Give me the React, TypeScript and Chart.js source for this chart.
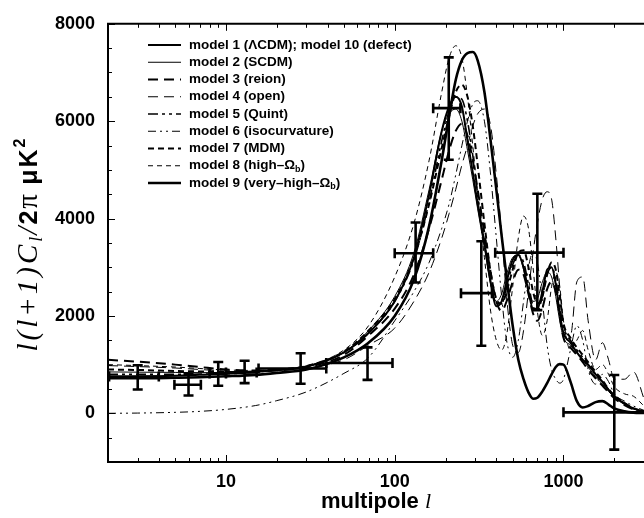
import React, { useEffect, useRef } from 'react';
import { Chart, registerables } from 'chart.js';
Chart.register(...registerables);

// multipole grid shared by all model curves
const ELL = [2, 3, 5, 7, 10, 15, 20, 30, 50, 70, 100, 130, 160, 190, 210, 230, 250, 270, 290, 310, 340, 370, 400, 430, 460, 500, 540, 580, 620, 660, 700, 750, 800, 850, 900, 950, 1000, 1100, 1200, 1300, 1400, 1550, 1700, 1850, 2000, 2300, 2600, 3000];

const M1 = [740, 750, 770, 790, 810, 850, 890, 960, 1250, 1650, 2300, 3200, 4500, 5800, 6300, 6500, 6300, 5600, 4950, 4300, 3500, 2700, 2200, 2300, 2700, 3150, 3250, 3000, 2500, 2150, 2150, 2500, 2950, 3000, 2650, 2050, 1650, 1450, 1250, 1100, 1000, 800, 650, 480, 350, 200, 100, 40];
const M2 = [850, 845, 840, 835, 835, 850, 880, 950, 1250, 1700, 2400, 3300, 4600, 5800, 6150, 6250, 6000, 5400, 4800, 4200, 3400, 2650, 2300, 2450, 2850, 3200, 3250, 2950, 2500, 2300, 2350, 2700, 2900, 2800, 2400, 1900, 1550, 1400, 1250, 1100, 950, 750, 600, 450, 330, 180, 90, 30];
const M3 = [1100, 1060, 1000, 950, 900, 880, 890, 950, 1200, 1600, 2150, 2850, 3800, 4800, 5400, 5800, 5950, 5700, 5200, 4600, 3700, 2900, 2300, 2100, 2300, 2700, 2950, 2850, 2450, 2050, 1900, 2150, 2550, 2700, 2500, 2000, 1550, 1350, 1200, 1050, 900, 720, 570, 430, 310, 170, 80, 30];
const M4 = [980, 960, 930, 900, 870, 860, 870, 930, 1100, 1400, 1750, 2300, 2900, 3600, 4100, 4600, 5100, 5500, 5900, 6150, 6250, 5900, 4900, 3700, 2400, 1400, 1250, 1700, 2500, 3300, 3900, 4400, 4550, 4400, 3600, 2600, 1800, 1600, 2700, 2800, 1900, 1100, 1450, 1100, 700, 700, 850, 300];
const M5 = [800, 800, 800, 805, 810, 850, 890, 960, 1250, 1650, 2300, 3150, 4350, 5600, 6200, 6500, 6450, 6000, 5300, 4500, 3500, 2700, 2250, 2250, 2600, 3050, 3250, 3100, 2650, 2200, 2100, 2400, 2850, 3000, 2750, 2200, 1750, 1500, 1300, 1150, 1000, 800, 650, 490, 360, 210, 100, 40];
const M6 = [0, 5, 20, 40, 80, 160, 260, 440, 820, 1150, 1900, 2500, 3100, 3800, 4300, 4900, 5500, 6000, 6350, 6420, 6000, 4900, 3600, 2400, 1500, 1150, 1500, 2300, 3000, 3300, 3100, 2300, 1400, 900, 700, 620, 700, 1300, 1800, 1500, 900, 600, 800, 650, 400, 250, 150, 60];
const M7 = [900, 890, 870, 860, 850, 860, 900, 970, 1270, 1700, 2350, 3200, 4300, 5450, 6100, 6600, 6750, 6500, 5900, 5100, 3900, 2900, 2350, 2250, 2500, 2950, 3300, 3350, 3000, 2500, 2250, 2400, 2850, 3100, 2950, 2400, 1850, 1550, 1350, 1200, 1050, 850, 680, 500, 370, 210, 100, 40];
const M8 = [1000, 980, 950, 920, 890, 880, 900, 970, 1300, 1800, 2800, 3900, 5200, 6600, 7300, 7550, 7300, 6500, 5500, 4500, 3200, 2100, 1500, 1300, 1600, 2600, 3600, 4050, 3800, 3000, 2100, 1600, 1900, 2600, 2900, 2600, 1900, 1300, 1500, 1700, 1300, 900, 1000, 800, 550, 400, 350, 150];
const M9 = [720, 720, 730, 740, 760, 790, 830, 900, 1150, 1450, 2000, 2750, 3850, 5200, 6100, 6850, 7250, 7400, 7420, 7250, 6600, 5600, 4600, 3650, 2800, 1800, 1100, 700, 430, 300, 320, 450, 620, 800, 950, 1010, 1000, 650, 250, 120, 150, 230, 250, 180, 100, 40, 15, 5];

const MODEL_LABELS = [
  'model 1 (ΛCDM); model 10 (defect)',
  'model 2 (SCDM)',
  'model 3 (reion)',
  'model 4 (open)',
  'model 5 (Quint)',
  'model 6 (isocurvature)',
  'model 7 (MDM)',
  'model 8 (high–Ω_b)',
  'model 9 (very–high–Ω_b)',
];

// band-power measurements with error bars
const PT_L = [3, 6, 9, 12.9, 27.7, 69, 133, 209, 326, 700, 2000];
const PT_V = [754, 587, 820, 840, 920, 1034, 3288, 6268, 2468, 3300, 20];
const PT_LLO = [2.03, 4.95, 8, 10, 15.6, 39.3, 100, 169, 247, 394, 1000];
const PT_LHI = [4.0, 7.1, 10, 15.2, 39.3, 97, 169, 245, 377, 1000, 4000];
const PT_VLO = [488, 367, 567, 620, 607, 687, 2688, 5208, 1388, 2120, -746];
const PT_VHI = [988, 800, 1054, 1080, 1234, 1354, 3920, 7310, 3534, 4508, 788];

const X_LABELS = [10, 100, 1000];
const Y_LABELS = [0, 2000, 4000, 6000, 8000];

const SANS = '"Liberation Sans", Arial, Helvetica, sans-serif';
const SERIF = '"Liberation Serif", "Times New Roman", serif';

const STYLES = [
  { w: 2, dash: [] as number[] },
  { w: 1, dash: [] as number[] },
  { w: 2, dash: [10, 6] },
  { w: 1, dash: [10, 6] },
  { w: 1.6, dash: [10, 4, 3, 4, 3, 4] },
  { w: 1, dash: [8, 4, 2, 4, 2, 4] },
  { w: 2, dash: [6, 4] },
  { w: 1, dash: [5, 4] },
  { w: 2.6, dash: [] as number[] },
];

export default function App() {
  const ref = useRef<HTMLCanvasElement>(null);
  useEffect(() => {
    document.body.style.margin = '0';
    const canvas = ref.current!;
    const series = [M1, M2, M3, M4, M5, M6, M7, M8, M9];
    const datasets: any[] = series.map((vals, i) => ({
      label: MODEL_LABELS[i],
      data: ELL.map((l, j) => ({ x: l, y: vals[j] })),
      borderColor: '#000',
      borderWidth: STYLES[i].w,
      borderDash: STYLES[i].dash,
      pointRadius: 0,
      cubicInterpolationMode: 'monotone',
      fill: false,
    }));
    datasets.push({
      label: 'data',
      data: PT_L.map((l, i) => ({ x: l, y: PT_V[i] })),
      showLine: false,
      pointRadius: 0,
      borderColor: '#000',
    });

    const errorBars = {
      id: 'errorBars',
      afterDatasetsDraw(chart: any) {
        const { ctx, chartArea: a, scales: { x, y } } = chart;
        ctx.save();
        ctx.beginPath();
        ctx.rect(a.left, a.top - 2, a.right - a.left, a.bottom - a.top + 4);
        ctx.clip();
        ctx.strokeStyle = '#000';
        ctx.lineWidth = 2.6;
        ctx.setLineDash([]);
        const cap = 5;
        PT_L.forEach((l, i) => {
          const px = x.getPixelForValue(l);
          const py = y.getPixelForValue(PT_V[i]);
          const x0 = x.getPixelForValue(PT_LLO[i]);
          const x1 = x.getPixelForValue(PT_LHI[i]);
          const y0 = y.getPixelForValue(PT_VLO[i]);
          const y1 = y.getPixelForValue(PT_VHI[i]);
          ctx.beginPath();
          ctx.moveTo(x0, py); ctx.lineTo(x1, py);
          ctx.moveTo(x0, py - cap); ctx.lineTo(x0, py + cap);
          ctx.moveTo(x1, py - cap); ctx.lineTo(x1, py + cap);
          ctx.moveTo(px, y0); ctx.lineTo(px, y1);
          ctx.moveTo(px - cap, y0); ctx.lineTo(px + cap, y0);
          ctx.moveTo(px - cap, y1); ctx.lineTo(px + cap, y1);
          ctx.stroke();
        });
        ctx.restore();
      },
    };

    const frame = {
      id: 'frame',
      afterDraw(chart: any) {
        const { ctx, chartArea: a, scales: { x, y } } = chart;
        ctx.save();
        ctx.strokeStyle = '#000';
        ctx.setLineDash([]);
        ctx.lineWidth = 2;
        ctx.beginPath();
        ctx.moveTo(a.left - 1, a.top);
        ctx.lineTo(a.right, a.top);
        ctx.stroke();
        ctx.lineWidth = 1;
        ctx.beginPath();
        for (let d = 1; d <= 1000; d *= 10) {
          for (let k = 1; k <= 9; k++) {
            const v = k * d;
            if (v < 2 || v > 3000) continue;
            const px = Math.round(x.getPixelForValue(v)) + 0.5;
            const len = k === 1 ? 7 : 4;
            ctx.moveTo(px, a.bottom); ctx.lineTo(px, a.bottom - len);
            ctx.moveTo(px, a.top); ctx.lineTo(px, a.top + len);
          }
        }
        for (let v = -1000; v <= 8000; v += 500) {
          const py = Math.round(y.getPixelForValue(v)) + 0.5;
          const len = v % 2000 === 0 ? 7 : 4;
          ctx.moveTo(a.left, py); ctx.lineTo(a.left + len, py);
        }
        ctx.stroke();

        // legend
        ctx.fillStyle = '#000';
        ctx.textBaseline = 'middle';
        MODEL_LABELS.forEach((lab, i) => {
          const yy = 45 + i * 17.25;
          ctx.lineWidth = STYLES[i].w;
          ctx.setLineDash(STYLES[i].dash);
          ctx.beginPath();
          ctx.moveTo(148, yy); ctx.lineTo(181, yy);
          ctx.stroke();
          ctx.setLineDash([]);
          let cx = 189;
          const parts = lab.split('_b');
          parts.forEach((p, k) => {
            ctx.font = `bold 13.5px ${SANS}`;
            ctx.fillText(p, cx, yy);
            cx += ctx.measureText(p).width;
            if (k < parts.length - 1) {
              ctx.font = `bold 9px ${SANS}`;
              ctx.fillText('b', cx, yy + 4);
              cx += ctx.measureText('b').width;
            }
          });
        });

        // x title
        ctx.textBaseline = 'alphabetic';
        const xa = `bold 22px ${SANS}`;
        const xb = `italic 22px ${SERIF}`;
        ctx.font = xa; const w1 = ctx.measureText('multipole ').width;
        ctx.font = xb; const w2 = ctx.measureText('l').width;
        const cxm = (a.left + a.right) / 2;
        const sx = cxm - (w1 + w2) / 2;
        ctx.font = xa; ctx.fillText('multipole ', sx, 508);
        ctx.font = xb; ctx.fillText('l', sx + w1, 508);

        // y title
        const pieces = [
          { t: 'l(l+1)C', f: `italic 29px ${SERIF}`, dy: 0, ls: 3 },
          { t: 'l', f: `italic 18px ${SERIF}`, dy: 5, ls: 2 },
          { t: '/', f: `italic 29px ${SERIF}`, dy: 0, ls: 2 },
          { t: '2', f: `bold 25px ${SANS}`, dy: 0, ls: 2 },
          { t: 'π', f: `29px ${SERIF}`, dy: 0, ls: 2 },
          { t: ' ', f: `29px ${SERIF}`, dy: 0, ls: 0 },
          { t: 'μK', f: `bold 25px ${SANS}`, dy: 0, ls: 2 },
          { t: '2', f: `bold 16px ${SANS}`, dy: -12, ls: 0 },
        ];
        const c: any = ctx;
        let total = 0;
        const widths = pieces.map((p) => {
          ctx.font = p.f;
          c.letterSpacing = `${p.ls}px`;
          const w = ctx.measureText(p.t).width;
          total += w;
          return w;
        });
        ctx.translate(37, 245);
        ctx.rotate(-Math.PI / 2);
        let px0 = -total / 2;
        pieces.forEach((p, i) => {
          ctx.font = p.f;
          c.letterSpacing = `${p.ls}px`;
          ctx.fillText(p.t, px0, p.dy);
          px0 += widths[i];
        });
        c.letterSpacing = '0px';
        ctx.restore();
      },
    };

    const chart = new Chart(canvas, {
      type: 'line',
      data: { datasets },
      plugins: [errorBars, frame],
      options: {
        animation: false,
        responsive: false,
        devicePixelRatio: 1,
        layout: { padding: { top: 13, right: 0, left: 0, bottom: 0 } },
        plugins: { legend: { display: false }, tooltip: { enabled: false }, title: { display: false } },
        scales: {
          x: {
            type: 'logarithmic',
            min: 2,
            max: 3000,
            grid: { display: false, drawTicks: false },
            border: { display: true, color: '#000', width: 2 },
            afterBuildTicks: (s: any) => { s.ticks = X_LABELS.map((v) => ({ value: v })); },
            afterFit: (s: any) => { s.height = 56; },
            ticks: {
              autoSkip: false,
              maxRotation: 0,
              padding: 9,
              color: '#000',
              font: { family: SANS, weight: 'bold', size: 18 },
              callback: (v: any) => String(v),
            },
          },
          y: {
            type: 'linear',
            min: -1000,
            max: 8000,
            grid: { display: false, drawTicks: false },
            border: { display: true, color: '#000', width: 2 },
            afterBuildTicks: (s: any) => { s.ticks = Y_LABELS.map((v) => ({ value: v })); },
            afterFit: (s: any) => { s.width = 108; },
            ticks: {
              padding: 13,
              color: '#000',
              font: { family: SANS, weight: 'bold', size: 18 },
              callback: (v: any) => String(v),
            },
          },
        },
      } as any,
    });
    return () => chart.destroy();
  }, []);
  return <canvas ref={ref} width={644} height={518} style={{ display: 'block' }} />;
}
